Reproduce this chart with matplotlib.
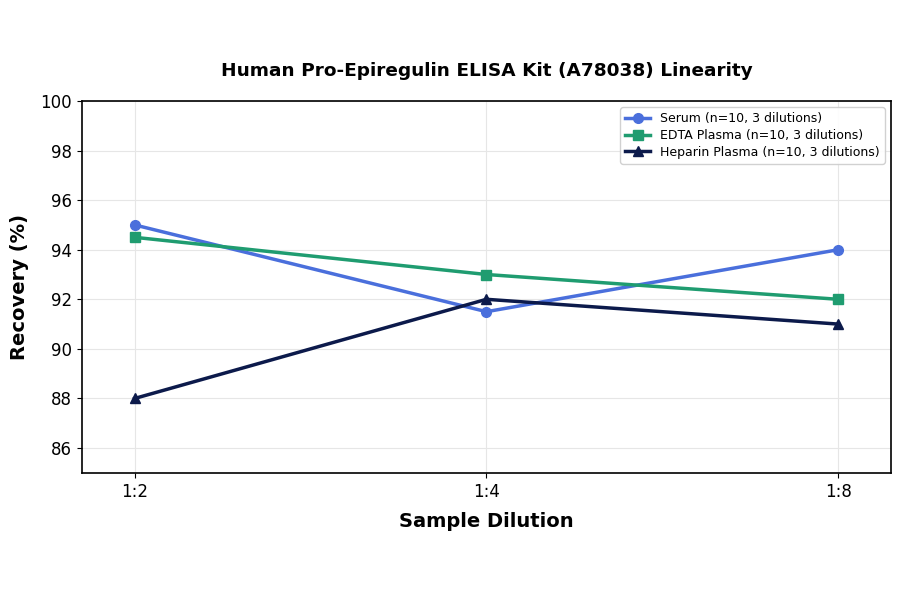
import matplotlib
matplotlib.use("Agg")
import matplotlib.pyplot as plt

dilutions = ["1:2", "1:4", "1:8"]
serum = [95.0, 91.5, 94.0]
edta = [94.5, 93.0, 92.0]
heparin = [88.0, 92.0, 91.0]
series_labels = ["Serum (n=10, 3 dilutions)", "EDTA Plasma (n=10, 3 dilutions)",
                 "Heparin Plasma (n=10, 3 dilutions)"]

fig = plt.figure(figsize=(9, 5.94), dpi=100)
ax = fig.add_axes([0.091, 0.204, 0.899, 0.626])
x = list(range(len(dilutions)))
ax.plot(x, serum, color="#4a6fdc", marker="o", lw=2.5, ms=7, label=series_labels[0])
ax.plot(x, edta, color="#1f9c70", marker="s", lw=2.5, ms=7, label=series_labels[1])
ax.plot(x, heparin, color="#0c1a4b", marker="^", lw=2.5, ms=7, label=series_labels[2])

ax.set_xticks(x)
ax.set_xticklabels(dilutions, fontsize=12)
ax.set_xlim(-0.15, 2.15)
ax.set_ylim(85, 100)
ax.set_yticks([86, 88, 90, 92, 94, 96, 98, 100])
ax.tick_params(axis="y", labelsize=12)
ax.grid(True, color="#e6e6e6", lw=0.8)
ax.set_axisbelow(True)
for s in ax.spines.values():
    s.set_linewidth(1.2)
ax.set_xlabel("Sample Dilution", fontsize=14, fontweight="bold", labelpad=8)
ax.set_ylabel("Recovery (%)", fontsize=14, fontweight="bold", labelpad=8)
ax.set_title("Human Pro-Epiregulin ELISA Kit (A78038) Linearity", fontsize=13.3,
             fontweight="bold", pad=18)
ax.legend(loc="upper right", fontsize=9, framealpha=0.9, labelspacing=0.3)
fig.savefig("out.png", dpi=100)
